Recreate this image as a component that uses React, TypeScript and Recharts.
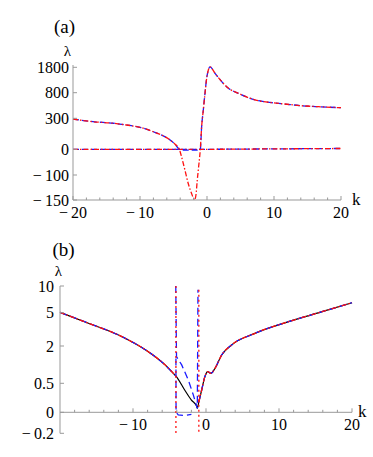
import React from 'react';
import { LineChart, Line, XAxis, YAxis, ReferenceLine } from 'recharts';

// ---- panel (a) ----
const kUpperA = [-20, -17, -14, -12, -10, -8, -6.5, -5.5, -4.8, -4.13, -3.8, -3.3, -2.8, -2.3, -2.0, -1.85, -1.65, -1.45, -1.25, -1.0, -0.8, -0.55, -0.3, -0.05, 0.2, 0.45, 1.2, 2.2, 3.2, 4.7, 6.2, 7.7, 9.7, 11.6, 14.1, 16.6, 20];
const redUpperA = [293, 267, 252, 235, 213, 170, 129, 90, 51, 0, -29, -80, -117, -137, -147, -150, -140, -110, -68, 0, 219, 462, 788, 1367, 1694, 1820, 1564, 1236, 973, 788, 702, 644, 605, 579, 546, 527, 507];
const blueUpperA = [293, 267, 252, 235, 213, 170, 129, 90, 51, 0, -3, -3, -3, -3, -3, -3, -3, -3, -3, 0, 219, 462, 788, 1367, 1694, 1820, 1564, 1236, 973, 788, 702, 644, 605, 579, 546, 527, 507];
const kZeroA = [-20, -10, -4, 0, 5, 10, 15, 20];
const zeroA = [0, 0, 0, 0, 2, 4, 6, 8];
const yTicksA = [-150, -100, 0, 300, 800, 1800];

// ---- panel (b) ----
const kMainB = [-20, -16.1, -11.5, -7.9, -5.6, -4.25, -4.12, -2.9, -2.0, -1.25, -1.19, -1.0, -0.6, -0.15, 0.23, 0.68, 1.23, 2.15, 3.5, 6.7, 11.3, 15.9, 20];
const mainB = [5.07, 4.05, 2.84, 1.77, 1.24, 0.83, 0.79, 0.38, 0.21, 0.1, 0.07, 0.17, 0.38, 0.77, 0.97, 0.9, 1.1, 1.64, 2.09, 3.14, 4.19, 5.19, 6.87];
const kBlue1B = [-4.14, -4.04, -3.33, -2.42, -1.74, -1.27, -1.19, -1.1];
const blue1B = [10, 1.57, 1.24, 0.63, 0.3, 0.1, 0.07, 9.3];
const kBlue2B = [-4.12, -4.1, -3.8, -3.0, -2.0];
const blue2B = [1.5, 0.0, -0.025, -0.03, -0.02];
const kPolesB = [-4.12, -0.98];
const poleTopB = [10, 9.3];
const gapB = [-4.12, -1.0];
const yTicksB = [-0.2, 0, 0.5, 2, 5, 10];

// axis warping: tick value -> height above plot bottom (px)
const yPosA = [0, 25, 50.7, 81.7, 107.3, 132.7];
const yPosB = [0, 21, 50, 87.3, 120.6, 147.3];

const makeWarp = (vals: number[], pos: number[]) => (v: number) => {
  let i = 0;
  while (i < vals.length - 2 && v > vals[i + 1]) i++;
  const t = (v - vals[i]) / (vals[i + 1] - vals[i]);
  return pos[i] + t * (pos[i + 1] - pos[i]);
};
const warpA = makeWarp(yTicksA, yPosA);
const warpB = makeWarp(yTicksB, yPosB);

const pts = (ks: number[], vs: number[], w: (v: number) => number) =>
  ks.map((k, i) => ({ k, y: w(vs[i]) }));

const serif = "'Liberation Serif', 'Times New Roman', 'DejaVu Serif', serif";
const axisColor = '#999';
const red = '#ff1010';
const blue = '#1a1aff';

const fmt = (v: number) => (v < 0 ? '\u2212\u2009' + Math.abs(v) : String(v));

const makeXTick = (shift: number) => (props: any) => {
  const { x, y, payload } = props;
  const v = payload.value;
  const major = v % 10 === 0;
  const ay = y - shift;
  return (
    <g>
      <line x1={x} x2={x} y1={ay} y2={ay - (major ? 4 : 2.5)} stroke={axisColor} />
      {major && (
        <text x={x} y={ay + 18} textAnchor="middle" fontSize={16} style={{ fontFamily: serif }} fill="#000">
          {fmt(v)}
        </text>
      )}
    </g>
  );
};

const makeYTick = (vals: number[], pos: number[], gap: number) => (props: any) => {
  const { x, y, payload } = props;
  const i = pos.findIndex((p) => Math.abs(p - payload.value) < 1e-6);
  return (
    <g>
      <line x1={x} x2={x + 4} y1={y} y2={y} stroke={axisColor} />
      <text x={x - gap} y={y} dy="0.35em" textAnchor="end" fontSize={16} style={{ fontFamily: serif }} fill="#000">
        {fmt(vals[i])}
      </text>
    </g>
  );
};

const ticksEvery2 = (from: number) => {
  const t: number[] = [];
  for (let v = from; v <= 20; v += 2) t.push(v);
  return t;
};

const PanelA = () => {
  const redUp = pts(kUpperA, redUpperA, warpA);
  const blueUp = pts(kUpperA, blueUpperA, warpA);
  const zero = pts(kZeroA, zeroA, warpA);
  const lineProps = { dataKey: 'y', dot: false, activeDot: false, isAnimationActive: false, type: 'monotone' } as const;
  return (
    <LineChart width={373} height={230} margin={{ top: 65, right: 32, bottom: 29, left: 72 }}>
      <XAxis
        type="number"
        dataKey="k"
        domain={[-20, 20]}
        ticks={ticksEvery2(-20)}
        interval={0}
        height={1}
        tickSize={0}
        tickMargin={0}
        tickLine={false}
        axisLine={{ stroke: axisColor }}
        tick={makeXTick(0)}
      />
      <YAxis
        type="number"
        dataKey="y"
        domain={[0, 135]}
        allowDataOverflow
        ticks={yPosA}
        interval={0}
        width={1}
        tickSize={0}
        tickMargin={0}
        tickLine={false}
        axisLine={{ stroke: axisColor }}
        tick={makeYTick(yTicksA, yPosA, 4)}
      />
      <Line {...lineProps} data={zero} stroke={blue} strokeWidth={1.3} strokeDasharray="6 3" />
      <Line {...lineProps} data={zero} stroke={red} strokeWidth={1.3} strokeDasharray="5 2 1.5 2" />
      <Line {...lineProps} data={blueUp} stroke={blue} strokeWidth={1.3} strokeDasharray="6 3" />
      <Line {...lineProps} data={redUp} stroke={red} strokeWidth={1.3} strokeDasharray="5 2 1.5 2" />
    </LineChart>
  );
};

const PanelB = () => {
  const main = pts(kMainB, mainB, warpB);
  const left = main.filter((p) => p.k <= gapB[0]);
  const right = main.filter((p) => p.k >= gapB[1]);
  const blue1 = pts(kBlue1B, blue1B, warpB);
  const blue2 = pts(kBlue2B, blue2B, warpB);
  const poles = kPolesB.map((k, i) => [
    { k, y: warpB(poleTopB[i]) },
    { k, y: warpB(yTicksB[0]) },
  ]);
  const shift = warpB(0) - warpB(yTicksB[0]);
  const lineProps = { dataKey: 'y', dot: false, activeDot: false, isAnimationActive: false } as const;
  return (
    <LineChart width={373} height={227} margin={{ top: 56, right: 21, bottom: 22.7, left: 59 }}>
      <XAxis
        type="number"
        dataKey="k"
        domain={[-20, 20]}
        ticks={ticksEvery2(-18)}
        interval={0}
        height={1}
        tickSize={0}
        tickMargin={0}
        tickLine={false}
        axisLine={false}
        tick={makeXTick(shift)}
      />
      <YAxis
        type="number"
        dataKey="y"
        domain={[0, 147.3]}
        allowDataOverflow
        ticks={yPosB}
        interval={0}
        width={1}
        tickSize={0}
        tickMargin={0}
        tickLine={false}
        axisLine={{ stroke: axisColor }}
        tick={makeYTick(yTicksB, yPosB, 6)}
      />
      <ReferenceLine y={warpB(0)} stroke={axisColor} />
      <Line {...lineProps} data={main} type="monotone" stroke="#000" strokeWidth={1.2} />
      <Line {...lineProps} data={left} type="monotone" stroke={blue} strokeWidth={1.3} strokeDasharray="7 4" />
      <Line {...lineProps} data={right} type="monotone" stroke={blue} strokeWidth={1.3} strokeDasharray="7 4" />
      <Line {...lineProps} data={blue1} type="linear" stroke={blue} strokeWidth={1.3} strokeDasharray="7 4" />
      <Line {...lineProps} data={blue2} type="linear" stroke={blue} strokeWidth={1.3} strokeDasharray="7 4" />
      <Line {...lineProps} data={left} type="monotone" stroke={red} strokeWidth={1.3} strokeDasharray="5 2 1.5 2" />
      <Line {...lineProps} data={right} type="monotone" stroke={red} strokeWidth={1.3} strokeDasharray="5 2 1.5 2" />
      {poles.map((d, i) => (
        <Line key={i} {...lineProps} data={d} type="linear" stroke={red} strokeWidth={1.3} strokeDasharray="2 3" />
      ))}
    </LineChart>
  );
};

export default function App() {
  return (
    <div style={{ position: 'absolute', left: 0, top: 0, width: 373, height: 457, background: '#fff' }}>
      <div style={{ position: 'absolute', left: 0, top: 0 }}>
        <PanelA />
      </div>
      <div style={{ position: 'absolute', left: 0, top: 230 }}>
        <PanelB />
      </div>
      <svg width={373} height={457} style={{ position: 'absolute', left: 0, top: 0, pointerEvents: 'none', fontFamily: serif }}>
        <g fill="#000">
          <text x={64.5} y={33} fontSize={19} textAnchor="middle">(a)</text>
          <text x={67.5} y={56} fontSize={15} textAnchor="middle">λ</text>
          <text x={352} y={205} fontSize={17}>k</text>
          <text x={63.5} y={256} fontSize={19} textAnchor="middle">(b)</text>
          <text x={58.5} y={276} fontSize={15} textAnchor="middle">λ</text>
          <text x={358} y={417} fontSize={17}>k</text>
        </g>
      </svg>
    </div>
  );
}
